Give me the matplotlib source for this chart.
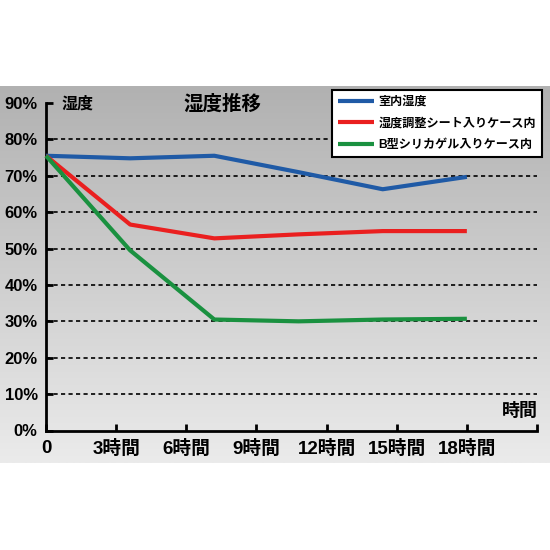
import numpy as np
import matplotlib
matplotlib.use("Agg")
import matplotlib.pyplot as plt
from matplotlib.colors import LinearSegmentedColormap

plt.rcParams['font.family'] = ['Liberation Sans', 'Noto Sans CJK JP', 'DejaVu Sans']
plt.rcParams['font.weight'] = 'bold'

# ---- data ----
hours = [0, 3.6, 7.2, 10.8, 14.4, 18]
room = [75.5, 74.8, 75.5, 71.0, 66.3, 69.7]
sheet = [75.5, 56.6, 52.8, 53.9, 54.8, 54.8]
silica = [75.5, 49.5, 30.5, 30.0, 30.5, 30.7]
series_names = ['室内湿度', '湿度調整シート入りケース内', 'B型シリカゲル入りケース内']
series_colors = ['#1f5aa6', '#ea1f1f', '#1a9140']

x_ticks = [0, 3, 6, 9, 12, 15, 18, 21]
x_labels = ['0', '3時間', '6時間', '9時間', '12時間', '15時間', '18時間', '']
y_ticks = [0, 10, 20, 30, 40, 50, 60, 70, 80, 90]
y_labels = ['0%', '10%', '20%', '30%', '40%', '50%', '60%', '70%', '80%', '90%']
grid_levels = [10, 20, 30, 40, 50, 60, 70, 80]

fig = plt.figure(figsize=(5.5, 5.5), dpi=100)
fig.patch.set_facecolor('white')

# gradient background band
bg = fig.add_axes([0, 87 / 550, 1, 377 / 550], zorder=0)
grad = np.linspace(0, 1, 256).reshape(-1, 1)
cmap = LinearSegmentedColormap.from_list('g', ['#b1b1b1', '#ebebeb'])
bg.imshow(grad, aspect='auto', cmap=cmap, extent=[0, 1, 1, 0])
bg.set_axis_off()

ax = fig.add_axes([46 / 550, (550 - 430.5) / 550, 491 / 550, 327.5 / 550], zorder=1)
ax.set_facecolor('none')
ax.set_xlim(0, 21)
ax.set_ylim(0, 90)

for lv in grid_levels:
    ax.axhline(lv, color='black', linestyle=(0, (2.5, 2)), linewidth=1.2, zorder=1)

for vals, name, col in zip([room, sheet, silica], series_names, series_colors):
    ax.plot(hours, vals, color=col, linewidth=3, label=name, zorder=3,
            solid_capstyle='butt', clip_on=False)

for s in ['top', 'right']:
    ax.spines[s].set_visible(False)
for s in ['left', 'bottom']:
    ax.spines[s].set_linewidth(2)
    ax.spines[s].set_color('black')

ax.set_xticks(x_ticks)
ax.set_xticklabels(x_labels)
ax.set_yticks(y_ticks)
ax.set_yticklabels(y_labels)
ax.tick_params(axis='x', direction='in', length=5, width=2, pad=7, labelsize=13.5)
ax.tick_params(axis='y', direction='in', length=5, width=2, pad=6, labelsize=12)
for lab in ax.get_xticklabels() + ax.get_yticklabels():
    lab.set_fontweight('bold')

fig.text(222 / 550, (550 - 104) / 550, '湿度推移', fontsize=14, fontweight='bold',
         ha='center', va='center')
fig.text(62 / 550, (550 - 104) / 550, '湿度', fontsize=11.5, fontweight='bold',
         ha='left', va='center')
fig.text(538 / 550, (550 - 411) / 550, '時間', fontsize=13, fontweight='bold',
         ha='right', va='center')

leg = ax.legend(loc='upper right', bbox_to_anchor=(542 / 550, (550 - 90) / 550),
                bbox_transform=fig.transFigure, borderaxespad=0, fancybox=False,
                framealpha=1, edgecolor='black', handlelength=2.95, handletextpad=0.4,
                labelspacing=0.8, borderpad=0.5,
                prop={'size': 8.7, 'weight': 'bold'})
leg.get_frame().set_linewidth(1.5)
leg.set_zorder(5)

fig.savefig('out.png', dpi=100)
